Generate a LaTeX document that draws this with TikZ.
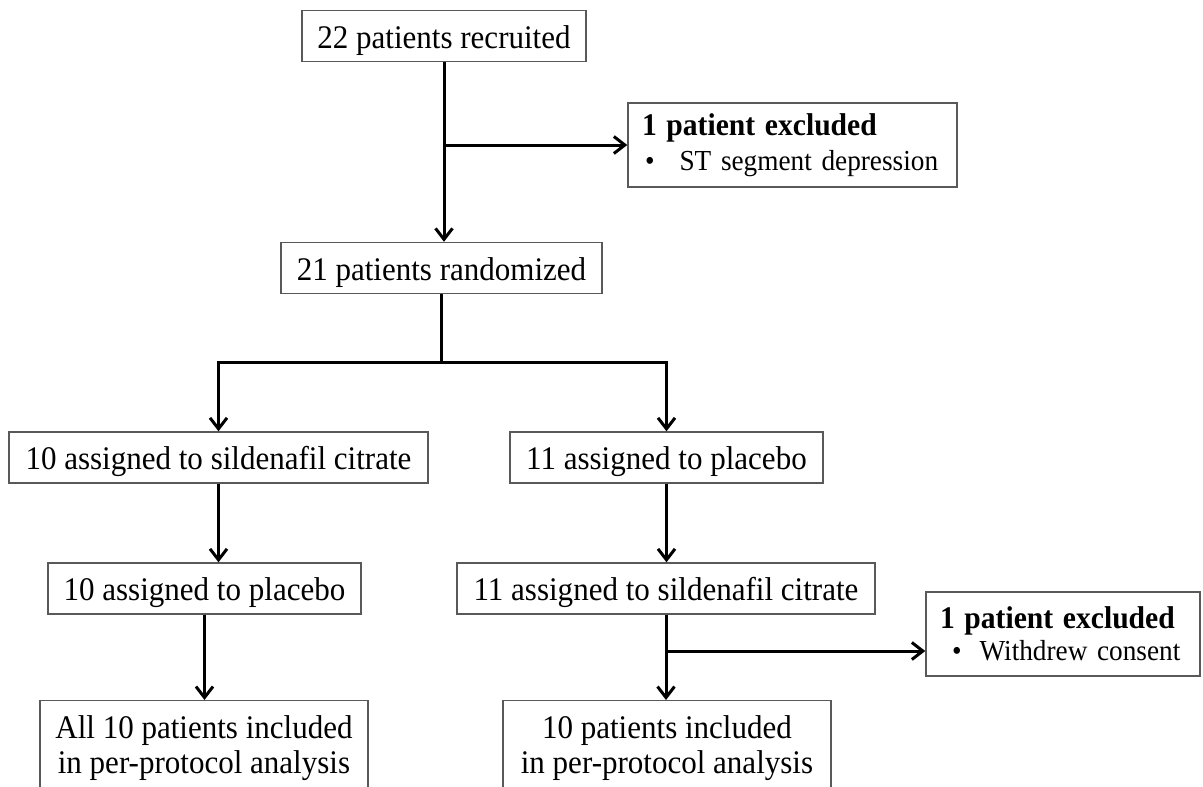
\documentclass[tikz,border=0pt]{standalone}
\usepackage{fontspec}
\setmainfont{Liberation Serif}[FakeStretch=0.94]
\usetikzlibrary{arrows.meta,calc}
\newcommand{\headline}[1]{{\fontsize{31.5}{35}\selectfont\bfseries #1}}
\newcommand{\itemline}[1]{{\fontsize{29}{35}\selectfont #1}}
\begin{document}
\begin{tikzpicture}[x=1pt,y=-1pt,
  box/.style={draw=black!65, line width=1.4pt, fill=white, inner sep=0pt,
    font=\fontsize{33}{35}\selectfont, minimum height=51pt,
    text height=26pt, text depth=2pt},
  tbox/.style={draw=black!65, line width=1.4pt, fill=white, inner xsep=14pt,
    inner ysep=0pt, align=left, minimum height=84pt},
  bbox/.style={draw=black!65, line width=1.4pt, fill=white, inner sep=0pt,
    align=center, font=\fontsize{33}{35}\selectfont, minimum height=95pt,
    anchor=north},
  tipstyle/.style={-{Straight Barb[length=11pt,width=17pt]}},
  conn/.style={line width=3pt, tipstyle},
  link/.style={line width=3pt}]
\useasboundingbox (0,0) rectangle (1203,787);
\fill[white] (0,0) rectangle (1203,787);
\clip (0,0) rectangle (1203,787);

% nodes
\node[box, minimum width=284pt] (n1) at (444,36) {22 patients recruited};
\node[tbox, text width=301pt, font=\fontsize{29}{35}\selectfont] (n2) at (792.5,145)
  {\mbox{\headline{1 patient excluded}}\\\mbox{\itemline{\hspace*{3pt}\textbullet\hspace{25pt}ST segment depression}}};
\node[box, minimum width=321pt] (n3) at (441.5,268) {21 patients randomized};
\node[box, minimum width=419pt] (n4) at (218.5,457.5) {10 assigned to sildenafil citrate};
\node[box, minimum width=313pt] (n5) at (666.5,457.5) {11 assigned to placebo};
\node[box, minimum width=313pt] (n6) at (204.5,588.5) {10 assigned to placebo};
\node[box, minimum width=418pt] (n7) at (666,588.5) {11 assigned to sildenafil citrate};
\node[tbox, text width=246pt, font=\fontsize{29}{32}\selectfont] (n8) at (1063,634)
  {\mbox{\headline{1 patient excluded}}\\\mbox{\itemline{\hspace*{12pt}\textbullet\hspace{18pt}Withdrew consent}}};
\node[bbox, minimum width=328pt] (n9) at (204,700) {All 10 patients included\\in per-protocol analysis};
\node[bbox, minimum width=328pt] (n10) at (667,700) {10 patients included\\in per-protocol analysis};

% helper coordinates
\coordinate (y362) at (0,362);
\coordinate (y651) at (0,651);
\coordinate (b1) at (n1.south |- n2.west);
\coordinate (j1) at (n3.south |- y362);
\coordinate (b2) at (n7.south |- y651);

% connectors
\draw[conn] (n1.south) -- (n1.south |- n3.north);
\draw[conn] (b1) -- (n2.west);
\draw[link] (n3.south) -- (j1);
\draw[line width=3pt, {Straight Barb[length=11pt,width=17pt]}-{Straight Barb[length=11pt,width=17pt]}]
  (n4.north) -- (n4.north |- j1) -- (n5.north |- j1) -- (n5.north);
\draw[conn] (n4.south) -- (n4.south |- n6.north);
\draw[conn] (n5.south) -- (n5.south |- n7.north);
\draw[conn] (n6.south) -- (n6.south |- n9.north);
\draw[conn] (n7.south) -- (n7.south |- n10.north);
\draw[conn] (b2) -- (b2 -| n8.west);
\end{tikzpicture}
\end{document}
